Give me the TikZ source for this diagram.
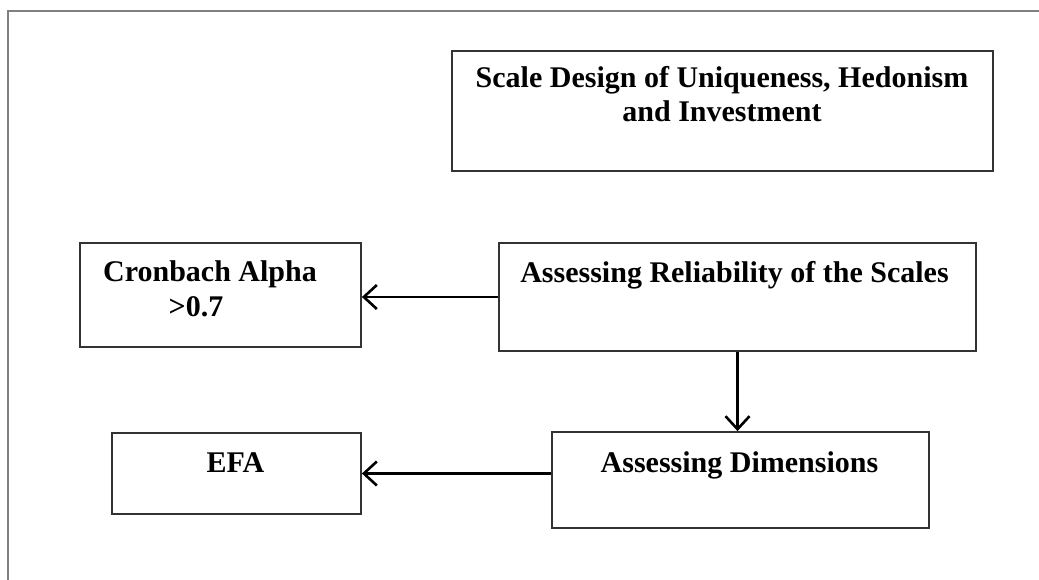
\documentclass[tikz,border=0pt]{standalone}
\usepackage{fontspec}
\setmainfont{Liberation Serif}
\usetikzlibrary{arrows.meta}
\begin{document}
\begin{tikzpicture}[x=1pt,y=-1pt,
  box/.style={draw=black!80, line width=1.8pt, rectangle, inner sep=0pt},
  label/.style={font=\bfseries\fontsize{30}{34.5}\selectfont, inner sep=0pt, anchor=base, align=center},
  arr/.style={line width=2.6pt, -{Straight Barb[length=13pt,width=24pt,line width=2.6pt]}}]
  \useasboundingbox (0,0) rectangle (1039,580);
  % outer frame, open at the right and bottom
  \draw[black!50, line width=2.2pt] (8,580) -- (8,11) -- (1039,11);

  % boxes
  \node[box, minimum width=541pt, minimum height=120pt] (scale) at (722.5,111) {};
  \node[box, minimum width=281pt, minimum height=104pt] (cron)  at (220.5,295) {};
  \node[box, minimum width=477pt, minimum height=108pt] (rel)   at (737.5,297) {};
  \node[box, minimum width=377pt, minimum height=96pt]  (dim)   at (740.5,480) {};
  \node[box, minimum width=249pt, minimum height=81pt]  (efa)   at (236.5,473.5) {};

  % box texts (base anchor sits on the last line)
  \node[label] (scaleT) at (722,122) {Scale Design of Uniqueness, Hedonism\\and Investment};
  \node[label] (cronT)  at (210,316) {Cronbach Alpha\\>0.7\kern28pt};
  \node[label] (relT)   at (734.5,283) {Assessing Reliability of the Scales};
  \node[label] (dimT)   at (739.5,472) {Assessing Dimensions};
  \node[label] (efaT)   at (235.5,472) {EFA};

  % connectors
  \draw[arr] (rel.west) -- (rel.west -| cron.east);
  \draw[arr] (rel.south) -- (rel.south |- dim.north);
  \draw[arr] (dim.west |- efa.east) -- (efa.east);
\end{tikzpicture}
\end{document}
